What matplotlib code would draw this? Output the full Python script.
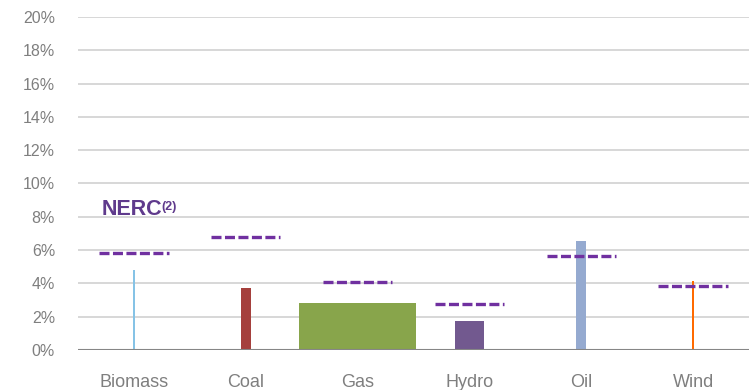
import matplotlib
matplotlib.use("Agg")
import matplotlib.pyplot as plt

plt.rcParams['font.family'] = ['Liberation Sans', 'DejaVu Sans']
plt.rcParams['lines.scale_dashes'] = False

categories = ["Biomass", "Coal", "Gas", "Hydro", "Oil", "Wind"]
values = [4.8, 3.74, 2.82, 1.74, 6.54, 4.14]
bar_widths = [0.018, 0.09, 1.05, 0.26, 0.09, 0.018]
nerc = [5.8, 6.8, 4.06, 2.78, 5.66, 3.82]
colors = ["#86C3E6", "#A5403D", "#88A54B", "#72598F", "#95AAD0", "#FF6A00"]
yticks = [0, 2, 4, 6, 8, 10, 12, 14, 16, 18, 20]
ytick_labels = [f"{v}%" for v in yticks]

fig = plt.figure(figsize=(7.49, 3.90), dpi=100)
ax = fig.add_axes([78/749, 40/390, 1 - 78/749, (350-17)/390])

x = list(range(len(categories)))
ax.bar(x, values, width=bar_widths, color=colors, zorder=3)

for i, v in enumerate(nerc):
    ln, = ax.plot([i - 0.31, i + 0.31], [v, v], color="#7030A0", lw=2.4,
                  solid_capstyle='butt', dash_capstyle='butt', zorder=4)
    ln.set_dashes((7.2, 2.5))

ax.set_xlim(-0.5, len(categories) - 0.5)
ax.set_ylim(0, 20)
ax.set_yticks(yticks)
ax.set_yticklabels(ytick_labels)
ax.set_xticks(x)
ax.set_xticklabels(categories)
ax.tick_params(axis='y', length=0, pad=16.5, labelsize=11.5, labelcolor="#7F7F7F")
ax.tick_params(axis='x', length=0, pad=17, labelsize=13, labelcolor="#7F7F7F")

for sp in ax.spines.values():
    sp.set_visible(False)
ax.grid(axis='y', color="#D4D4D4", lw=1.3, zorder=0)
ax.set_axisbelow(True)
ax.axhline(0, color="#868686", lw=1.5, zorder=5)

t = ax.text(-0.29, 7.8, "NERC", color="#5F3A8C", fontsize=15.5,
            fontweight='bold', ha='left', va='bottom', zorder=6)
ax.annotate("(2)", xy=(1.0, 1.0), xycoords=t, xytext=(-0.5, -1.5),
            textcoords='offset points', color="#5F3A8C", fontsize=9,
            fontweight='bold', ha='left', va='top', zorder=6)

fig.savefig("out.png", dpi=100)
